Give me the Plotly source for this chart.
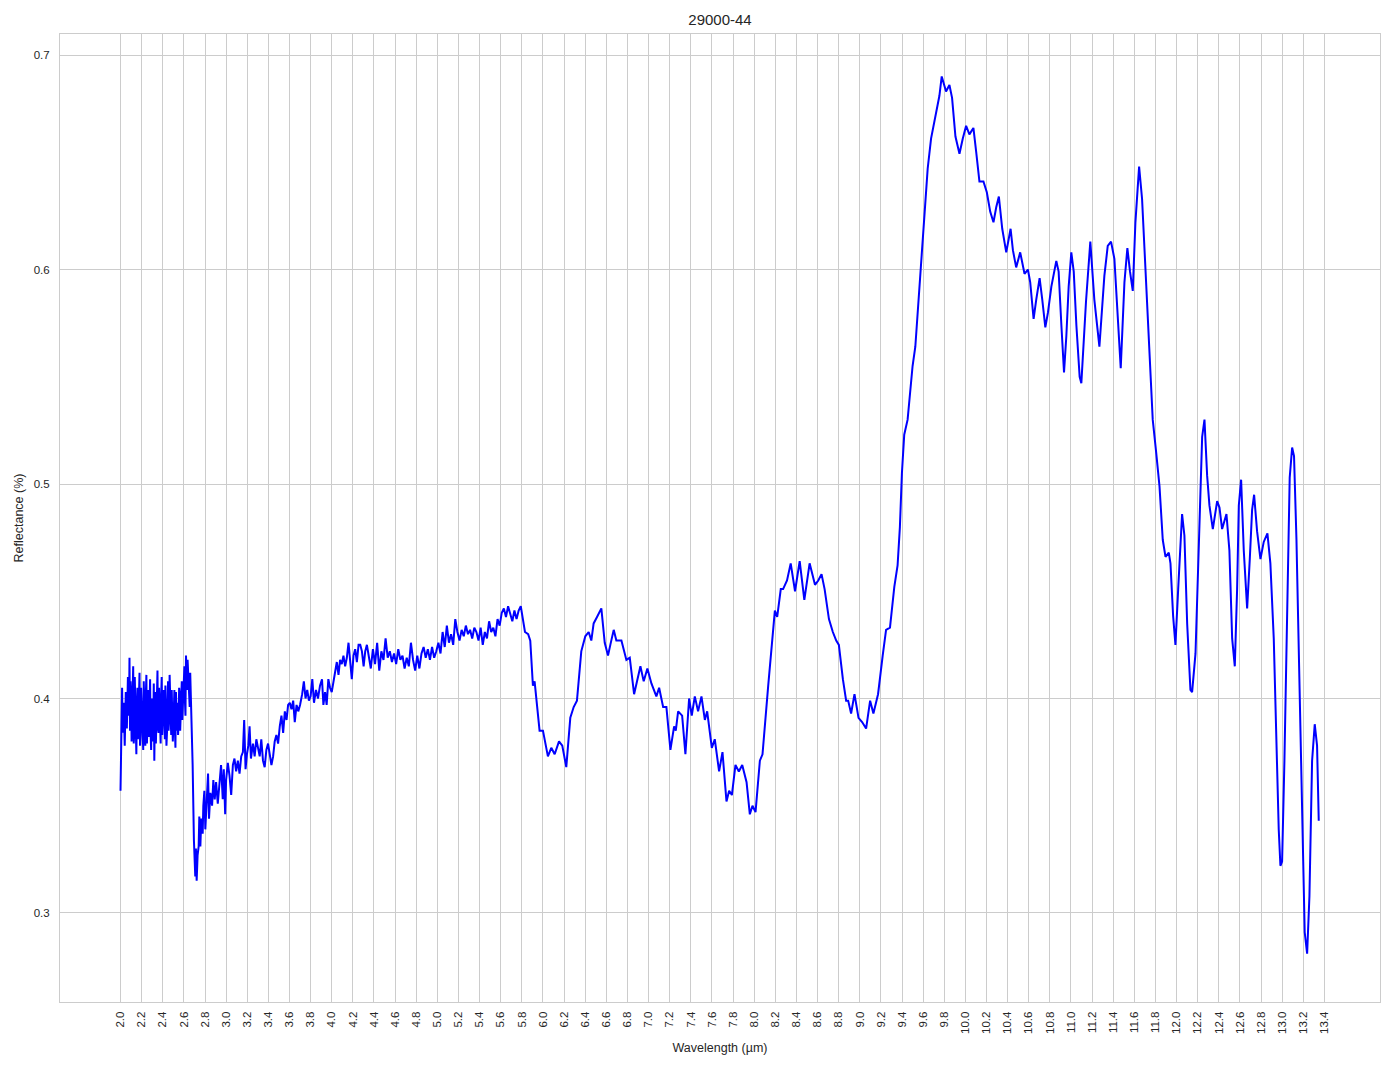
import plotly.graph_objects as go

title_text = "29000-44"
x_label = "Wavelength (µm)"
y_label = "Reflectance (%)"

# --- noisy start (2.00 - 2.67 µm)
wl_a = [2.000, 2.005, 2.010, 2.015, 2.020, 2.030, 2.040, 2.050, 2.060, 2.070, 2.080, 2.085, 2.090,
        2.10, 2.11, 2.12, 2.13, 2.14, 2.15, 2.16, 2.17, 2.18, 2.19,
        2.20, 2.21, 2.22, 2.23, 2.24, 2.25, 2.26, 2.27, 2.28, 2.29,
        2.30, 2.31, 2.32, 2.33, 2.34, 2.35, 2.36, 2.37, 2.38, 2.39,
        2.40, 2.41, 2.42, 2.43, 2.44, 2.45, 2.46, 2.47, 2.48, 2.49,
        2.50, 2.51, 2.52, 2.53, 2.54, 2.55, 2.56, 2.57, 2.58, 2.59,
        2.60, 2.61, 2.62, 2.63, 2.64, 2.65, 2.66, 2.668]
rf_a = [0.357, 0.380, 0.372, 0.405, 0.384, 0.398, 0.378, 0.403, 0.386, 0.410, 0.392, 0.419, 0.385,
        0.402, 0.388, 0.415, 0.383, 0.399, 0.374, 0.405, 0.390, 0.412, 0.383,
        0.397, 0.381, 0.408, 0.387, 0.402, 0.379, 0.396, 0.382, 0.409, 0.376,
        0.400, 0.386, 0.371, 0.403, 0.388, 0.413, 0.384, 0.398, 0.379, 0.410,
        0.389, 0.404, 0.381, 0.396, 0.384, 0.408, 0.390, 0.401, 0.383, 0.395,
        0.386, 0.404, 0.377, 0.393, 0.398, 0.389, 0.402, 0.394, 0.408, 0.396,
        0.410, 0.399, 0.420, 0.404, 0.414, 0.401, 0.412, 0.398]
# in-between samples of the same noisy band
wl_a2 = [2.095, 2.105, 2.115, 2.125, 2.135, 2.145, 2.155, 2.165, 2.175, 2.185, 2.195,
         2.205, 2.215, 2.225, 2.235, 2.245, 2.255, 2.265, 2.275, 2.285, 2.295,
         2.305, 2.315, 2.325, 2.335, 2.345, 2.355, 2.365, 2.375, 2.385, 2.395,
         2.405, 2.415, 2.425, 2.435, 2.445, 2.455, 2.465, 2.475, 2.485, 2.495,
         2.505, 2.515, 2.525, 2.535, 2.545, 2.555, 2.565, 2.575, 2.585, 2.595,
         2.605, 2.615, 2.625, 2.635, 2.645, 2.655]
rf_a2 = [0.408, 0.380, 0.397, 0.379, 0.410, 0.386, 0.396, 0.381, 0.399, 0.378, 0.405,
         0.391, 0.376, 0.394, 0.378, 0.411, 0.389, 0.404, 0.390, 0.384, 0.398,
         0.380, 0.407, 0.392, 0.379, 0.399, 0.386, 0.405, 0.388, 0.401, 0.383,
         0.397, 0.392, 0.406, 0.378, 0.400, 0.385, 0.411, 0.388, 0.404, 0.380,
         0.392, 0.386, 0.403, 0.385, 0.383, 0.405, 0.385, 0.399, 0.390, 0.401,
         0.415, 0.392, 0.409, 0.418, 0.406, 0.396]

# --- drop and recovery (2.68 - 3.70 µm)
wl_b = [2.676, 2.683, 2.695, 2.708, 2.714, 2.721, 2.730, 2.740, 2.746, 2.756, 2.765, 2.778, 2.784,
        2.794, 2.803, 2.816, 2.829, 2.838, 2.851, 2.867, 2.879, 2.892, 2.905, 2.921, 2.937, 2.952,
        2.968, 2.978, 2.991, 3.000, 3.016, 3.032, 3.048, 3.064, 3.079, 3.095, 3.111, 3.127, 3.143,
        3.159, 3.171, 3.184, 3.197, 3.210, 3.222, 3.235, 3.254, 3.270, 3.286, 3.302, 3.318, 3.333,
        3.349, 3.365, 3.381, 3.397, 3.413, 3.429, 3.445, 3.460, 3.476, 3.492, 3.508, 3.524, 3.540,
        3.556, 3.572, 3.587, 3.603, 3.619, 3.635, 3.650, 3.667, 3.683, 3.700]
rf_b = [0.386, 0.369, 0.334, 0.317, 0.330, 0.315, 0.327, 0.331, 0.345, 0.331, 0.344, 0.337, 0.350,
        0.357, 0.339, 0.355, 0.365, 0.344, 0.356, 0.350, 0.362, 0.353, 0.361, 0.351, 0.363, 0.369,
        0.353, 0.367, 0.346, 0.362, 0.370, 0.364, 0.355, 0.369, 0.372, 0.366, 0.371, 0.365, 0.373,
        0.375, 0.390, 0.367, 0.374, 0.378, 0.387, 0.372, 0.379, 0.373, 0.381, 0.376, 0.373, 0.381,
        0.371, 0.368, 0.376, 0.379, 0.373, 0.369, 0.373, 0.380, 0.383, 0.379, 0.387, 0.392, 0.384,
        0.394, 0.390, 0.397, 0.398, 0.395, 0.399, 0.389, 0.397, 0.394, 0.397]

# --- 3.72 - 4.33 µm
wl_c = [3.720, 3.736, 3.752, 3.768, 3.784, 3.800, 3.816, 3.832, 3.851, 3.870, 3.889, 3.908, 3.921,
        3.937, 3.952, 3.968, 3.984, 4.000, 4.016, 4.032, 4.048, 4.064, 4.079, 4.095, 4.111, 4.127,
        4.143, 4.159, 4.175, 4.190, 4.206, 4.222, 4.238, 4.254, 4.270, 4.286, 4.302, 4.317, 4.333]
rf_c = [0.402, 0.408, 0.400, 0.404, 0.399, 0.401, 0.409, 0.398, 0.404, 0.400, 0.406, 0.409, 0.397,
        0.403, 0.397, 0.409, 0.405, 0.403, 0.408, 0.412, 0.417, 0.411, 0.418, 0.416, 0.420, 0.415,
        0.419, 0.426, 0.417, 0.409, 0.420, 0.423, 0.417, 0.425, 0.425, 0.422, 0.415, 0.422, 0.425]

# --- plateau 4.35 - 5.88 µm
wl_d = [4.35, 4.37, 4.39, 4.41, 4.43, 4.45, 4.47, 4.49, 4.51, 4.53, 4.55, 4.57, 4.59, 4.61, 4.63,
        4.65, 4.67, 4.69, 4.71, 4.73, 4.75, 4.77, 4.79, 4.81, 4.83, 4.85, 4.87, 4.89, 4.91, 4.93,
        4.95, 4.97, 4.99, 5.01, 5.03, 5.05, 5.07, 5.09, 5.11, 5.13, 5.15, 5.17, 5.19, 5.21, 5.23,
        5.25, 5.27, 5.29, 5.31, 5.33, 5.35, 5.37, 5.39, 5.41, 5.43, 5.45, 5.47, 5.49, 5.51, 5.53,
        5.55, 5.57, 5.59, 5.61, 5.63, 5.65, 5.67, 5.69, 5.71, 5.73, 5.75, 5.77, 5.79, 5.81, 5.83,
        5.86, 5.88]
rf_d = [0.420, 0.414, 0.423, 0.416, 0.426, 0.413, 0.422, 0.418, 0.428, 0.419, 0.422, 0.417, 0.421, 0.416, 0.423,
        0.418, 0.420, 0.414, 0.419, 0.415, 0.426, 0.418, 0.413, 0.420, 0.414, 0.421, 0.424, 0.419, 0.423, 0.418,
        0.424, 0.419, 0.422, 0.426, 0.421, 0.431, 0.424, 0.434, 0.426, 0.430, 0.425, 0.437, 0.431, 0.427, 0.432,
        0.429, 0.434, 0.430, 0.432, 0.428, 0.433, 0.431, 0.427, 0.433, 0.425, 0.431, 0.428, 0.436, 0.431, 0.433,
        0.429, 0.437, 0.434, 0.440, 0.442, 0.438, 0.443, 0.440, 0.436, 0.441, 0.437, 0.441, 0.443, 0.437, 0.431,
        0.430, 0.427]

# --- 5.9 - 8.22 µm
wl_e = [5.905, 5.921, 5.968, 6.000, 6.047, 6.079, 6.111, 6.152, 6.183, 6.221, 6.259, 6.291, 6.322,
        6.363, 6.401, 6.433, 6.458, 6.480, 6.512, 6.553, 6.585, 6.616, 6.638, 6.670, 6.695, 6.743,
        6.790, 6.822, 6.863, 6.891, 6.923, 6.954, 6.989, 7.027, 7.074, 7.100, 7.138, 7.169, 7.207,
        7.242, 7.258, 7.280, 7.318, 7.349, 7.384, 7.409, 7.438, 7.469, 7.501, 7.533, 7.555, 7.599,
        7.627, 7.668, 7.700, 7.738, 7.763, 7.789, 7.823, 7.855, 7.887, 7.928, 7.959, 7.984, 8.013,
        8.054, 8.079, 8.133, 8.196, 8.218]
rf_e = [0.406, 0.408, 0.385, 0.385, 0.373, 0.377, 0.374, 0.380, 0.378, 0.368, 0.391, 0.396, 0.399,
        0.422, 0.429, 0.431, 0.427, 0.435, 0.438, 0.442, 0.426, 0.420, 0.425, 0.432, 0.427, 0.427,
        0.418, 0.419, 0.402, 0.408, 0.415, 0.408, 0.414, 0.407, 0.401, 0.405, 0.396, 0.396, 0.376,
        0.387, 0.385, 0.394, 0.392, 0.374, 0.400, 0.392, 0.401, 0.394, 0.401, 0.390, 0.394, 0.377,
        0.381, 0.366, 0.375, 0.352, 0.357, 0.355, 0.369, 0.366, 0.369, 0.361, 0.346, 0.350, 0.347,
        0.371, 0.374, 0.406, 0.441, 0.438]

# --- 8.25 - 9.36 µm
wl_f = [8.252, 8.274, 8.311, 8.346, 8.387, 8.431, 8.475, 8.525, 8.576, 8.607, 8.638, 8.667, 8.708,
        8.745, 8.777, 8.802, 8.840, 8.871, 8.890, 8.918, 8.950, 8.988, 9.022, 9.060, 9.098, 9.129,
        9.173, 9.217, 9.249, 9.286, 9.327, 9.358]
rf_f = [0.451, 0.451, 0.455, 0.463, 0.450, 0.464, 0.446, 0.463, 0.453, 0.455, 0.458, 0.451, 0.437,
        0.431, 0.427, 0.425, 0.409, 0.399, 0.399, 0.393, 0.402, 0.391, 0.389, 0.386, 0.399, 0.393,
        0.402, 0.420, 0.432, 0.433, 0.452, 0.462]

# --- main peak 9.38 - 11.08 µm
wl_g = [9.380, 9.399, 9.421, 9.453, 9.475, 9.500, 9.526, 9.548, 9.580, 9.611, 9.643, 9.675, 9.706,
        9.738, 9.754, 9.776, 9.817, 9.849, 9.874, 9.906, 9.944, 9.975, 10.007, 10.038, 10.076, 10.102,
        10.133, 10.171, 10.203, 10.235, 10.266, 10.292, 10.317, 10.349, 10.387, 10.428, 10.450, 10.481,
        10.519, 10.560, 10.592, 10.614, 10.646, 10.671, 10.703, 10.728, 10.757, 10.782, 10.814, 10.861,
        10.883, 10.909, 10.934, 10.956, 10.978, 11.003, 11.026, 11.051, 11.082]
rf_g = [0.480, 0.505, 0.523, 0.530, 0.543, 0.555, 0.564, 0.580, 0.602, 0.623, 0.647, 0.661, 0.669,
        0.676, 0.681, 0.690, 0.683, 0.686, 0.680, 0.662, 0.654, 0.661, 0.667, 0.663, 0.666, 0.655,
        0.641, 0.641, 0.636, 0.627, 0.622, 0.629, 0.634, 0.619, 0.608, 0.619, 0.609, 0.601,
        0.608, 0.598, 0.600, 0.594, 0.577, 0.586, 0.596, 0.586, 0.573, 0.580, 0.592, 0.604,
        0.599, 0.574, 0.552, 0.569, 0.592, 0.608, 0.599, 0.574, 0.550]

# --- 11.1 - 11.8 µm
wl_h = [11.098, 11.142, 11.183, 11.221, 11.269, 11.316, 11.348, 11.379, 11.411, 11.442, 11.471,
        11.506, 11.534, 11.559, 11.585, 11.610, 11.645, 11.673, 11.705, 11.743, 11.774, 11.806]
rf_h = [0.547, 0.585, 0.613, 0.586, 0.564, 0.597, 0.611, 0.613, 0.605, 0.578, 0.554,
        0.594, 0.610, 0.599, 0.590, 0.622, 0.648, 0.633, 0.599, 0.560, 0.530, 0.515]

# --- tail 11.84 - 13.35 µm
wl_i = [11.838, 11.869, 11.895, 11.926, 11.942, 11.967, 11.989, 12.015, 12.052, 12.074, 12.100,
        12.131, 12.147, 12.179, 12.210, 12.242, 12.264, 12.289, 12.311, 12.343, 12.384, 12.406,
        12.431, 12.472, 12.500, 12.526, 12.551, 12.573, 12.589, 12.611, 12.636, 12.668, 12.693,
        12.715, 12.734, 12.762, 12.794, 12.825, 12.860, 12.888, 12.920, 12.945, 12.967, 12.983,
        12.999, 13.021, 13.046, 13.071, 13.094, 13.112, 13.135, 13.163, 13.188, 13.213, 13.236,
        13.258, 13.283, 13.308, 13.330, 13.346]
rf_i = [0.499, 0.474, 0.466, 0.468, 0.463, 0.4385, 0.425, 0.451, 0.486, 0.476, 0.435,
        0.404, 0.403, 0.421, 0.469, 0.522, 0.530, 0.504, 0.490, 0.479, 0.492, 0.489,
        0.479, 0.486, 0.469, 0.428, 0.415, 0.451, 0.490, 0.502, 0.469, 0.442, 0.465,
        0.488, 0.495, 0.478, 0.465, 0.473, 0.477, 0.463, 0.428, 0.380, 0.339, 0.322,
        0.324, 0.371, 0.442, 0.503, 0.517, 0.513, 0.474, 0.406, 0.335, 0.291, 0.281,
        0.308, 0.371, 0.388, 0.378, 0.343]

x_tick_vals = [round(2.0 + 0.2 * i, 1) for i in range(58)]
x_tick_text = [f"{v:.1f}" for v in x_tick_vals]
y_tick_vals = [0.3, 0.4, 0.5, 0.6, 0.7]
y_tick_text = ["0.3", "0.4", "0.5", "0.6", "0.7"]

segments = [(wl_a, rf_a), (wl_a2, rf_a2), (wl_b, rf_b), (wl_c, rf_c), (wl_d, rf_d), (wl_e, rf_e),
            (wl_f, rf_f), (wl_g, rf_g), (wl_h, rf_h), (wl_i, rf_i)]
pairs = []
for w, r in segments:
    assert len(w) == len(r), (len(w), len(r))
    pairs += list(zip(w, r))
pairs.sort(key=lambda p: p[0])
wavelength = [p[0] for p in pairs]
reflectance = [p[1] for p in pairs]

FONT = "Liberation Sans, Arial, sans-serif"
TXT = "#262626"
GRID = "#cccccc"

# the page body adds an 8 px offset; the figure is sized so the plot area lands where the reference has it
W, H = 1386, 1061

fig = go.Figure()
fig.add_trace(go.Scatter(x=wavelength, y=reflectance, mode="lines",
                         line=dict(color="#0000ff", width=2), showlegend=False))

fig.update_layout(
    width=W, height=H,
    margin=dict(l=52, r=14, t=26, b=67, autoexpand=False),
    paper_bgcolor="white", plot_bgcolor="white",
    font=dict(family=FONT, color=TXT, size=12),
    title=dict(text=title_text, xref="paper", x=0.5, xanchor="center", y=1 - 12 / H, yanchor="middle",
               font=dict(size=15, color=TXT, family=FONT)),
)
fig.update_xaxes(
    range=[1.427, 13.926], tickmode="array", tickvals=x_tick_vals, ticktext=x_tick_text,
    tickangle=-90, tickfont=dict(size=11.5, color=TXT), automargin=False,
    showgrid=True, gridcolor=GRID, gridwidth=1, zeroline=False,
    showline=True, linecolor=GRID, linewidth=1, mirror=True,
    ticks="", ticklabelstandoff=4,
    title=dict(text=x_label, font=dict(size=12.5, color=TXT), standoff=10),
)
fig.update_yaxes(
    range=[0.2585, 0.7098], tickmode="array", tickvals=y_tick_vals, ticktext=y_tick_text,
    tickfont=dict(size=11.5, color=TXT), automargin=False,
    showgrid=True, gridcolor=GRID, gridwidth=1, zeroline=False,
    showline=True, linecolor=GRID, linewidth=1, mirror=True,
    ticks="", ticklabelstandoff=7,
    title=dict(text=y_label, font=dict(size=12.5, color=TXT), standoff=7),
)

fig.write_html("out.html")
